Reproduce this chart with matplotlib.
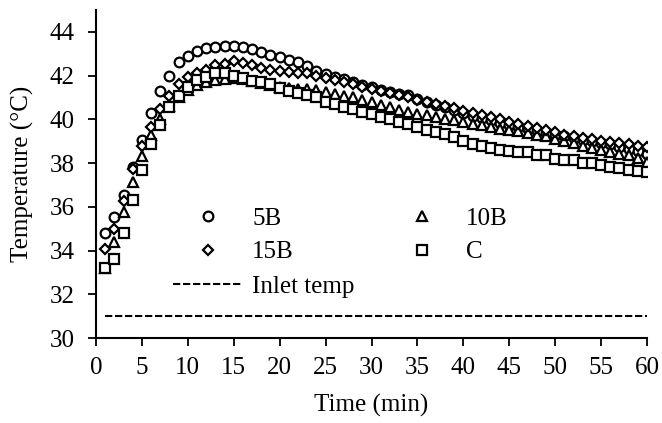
import matplotlib
matplotlib.use("Agg")
import matplotlib.pyplot as plt

time_min = [1, 2, 3, 4, 5, 6, 7, 8, 9, 10, 11, 12, 13, 14, 15, 16, 17, 18, 19, 20,
            21, 22, 23, 24, 25, 26, 27, 28, 29, 30, 31, 32, 33, 34, 35, 36, 37, 38, 39, 40,
            41, 42, 43, 44, 45, 46, 47, 48, 49, 50, 51, 52, 53, 54, 55, 56, 57, 58, 59, 60]

temp_5B = [34.80, 35.53, 36.52, 37.81, 39.07, 40.27, 41.28, 41.99, 42.60, 42.90,
           43.13, 43.28, 43.33, 43.35, 43.35, 43.33, 43.21, 43.06, 42.95, 42.83,
           42.70, 42.60, 42.45, 42.20, 42.07, 41.95, 41.84, 41.69, 41.56, 41.46,
           41.33, 41.23, 41.16, 41.10, 40.95, 40.80, 40.65, 40.55, 40.42, 40.30,
           40.15, 40.05, 39.95, 39.82, 39.72, 39.64, 39.56, 39.45, 39.38, 39.30,
           39.22, 39.15, 39.05, 39.00, 38.90, 38.85, 38.75, 38.65, 38.55, 38.40]

temp_15B = [34.06, 35.00, 36.25, 37.74, 38.76, 39.67, 40.47, 41.08, 41.60, 41.95,
            42.14, 42.25, 42.50, 42.52, 42.65, 42.56, 42.48, 42.37, 42.25, 42.19,
            42.17, 42.14, 42.10, 42.00, 41.90, 41.80, 41.70, 41.60, 41.50, 41.40,
            41.30, 41.20, 41.10, 41.00, 40.90, 40.80, 40.70, 40.60, 40.50, 40.40,
            40.30, 40.20, 40.10, 40.00, 39.90, 39.80, 39.70, 39.60, 39.50, 39.40,
            39.30, 39.25, 39.15, 39.10, 39.00, 38.95, 38.90, 38.85, 38.80, 38.72]

temp_10B = [33.20, 34.39, 35.76, 37.13, 38.34, 39.29, 40.02, 40.62, 41.00, 41.35,
            41.55, 41.70, 41.80, 41.85, 41.90, 41.85, 41.75, 41.65, 41.58, 41.50,
            41.45, 41.40, 41.40, 41.35, 41.23, 41.16, 41.08, 41.00, 40.88, 40.78,
            40.65, 40.55, 40.42, 40.32, 40.25, 40.18, 40.10, 40.02, 39.95, 39.87,
            39.80, 39.72, 39.65, 39.58, 39.52, 39.45, 39.38, 39.30, 39.22, 39.12,
            39.02, 38.92, 38.78, 38.70, 38.60, 38.52, 38.42, 38.35, 38.25, 38.05]

temp_C = [33.18, 33.63, 34.80, 36.29, 37.69, 38.88, 39.74, 40.58, 41.08, 41.50,
          41.80, 41.92, 42.10, 42.10, 42.00, 41.90, 41.76, 41.70, 41.60, 41.45,
          41.30, 41.20, 41.10, 41.00, 40.78, 40.70, 40.55, 40.47, 40.32, 40.25,
          40.09, 40.02, 39.86, 39.79, 39.64, 39.50, 39.41, 39.33, 39.18, 39.03,
          38.88, 38.80, 38.70, 38.60, 38.54, 38.50, 38.50, 38.39, 38.35, 38.19,
          38.15, 38.12, 37.99, 37.99, 37.89, 37.81, 37.78, 37.69, 37.66, 37.58]

inlet_temp = [31.0, 31.0, 31.0, 31.0, 31.0, 31.0, 31.0, 31.0, 31.0, 31.0,
              31.0, 31.0, 31.0, 31.0, 31.0, 31.0, 31.0, 31.0, 31.0, 31.0,
              31.0, 31.0, 31.0, 31.0, 31.0, 31.0, 31.0, 31.0, 31.0, 31.0,
              31.0, 31.0, 31.0, 31.0, 31.0, 31.0, 31.0, 31.0, 31.0, 31.0,
              31.0, 31.0, 31.0, 31.0, 31.0, 31.0, 31.0, 31.0, 31.0, 31.0,
              31.0, 31.0, 31.0, 31.0, 31.0, 31.0, 31.0, 31.0, 31.0, 31.0]

x_ticks = [0, 5, 10, 15, 20, 25, 30, 35, 40, 45, 50, 55, 60]
y_ticks = [30, 32, 34, 36, 38, 40, 42, 44]

plt.rcParams['font.family'] = ['Liberation Serif', 'DejaVu Serif']
FS = 18

fig = plt.figure(figsize=(6.62, 4.23), dpi=100)
ax = fig.add_axes([96 / 662, 1 - 338 / 423, (647 - 96) / 662, (338 - 10) / 423])

mk = dict(linestyle='none', markerfacecolor='white', markeredgecolor='black',
          markeredgewidth=1.6, markersize=7)
h5, = ax.plot(time_min, temp_5B, marker='o', label='5B', **mk)
h10, = ax.plot(time_min, temp_10B, marker='^', label='10B', **mk)
h15, = ax.plot(time_min, temp_15B, marker='D', label='15B', **{**mk, 'markersize': 5.3})
hC, = ax.plot(time_min, temp_C, marker='s', label='C', **{**mk, 'markersize': 6.5})
hI, = ax.plot(time_min, inlet_temp, linestyle=(0, (3.5, 1.3)), color='black',
              linewidth=1.5, label='Inlet temp')

ax.set_xlim(0, 60)
ax.set_ylim(30, 45)
ax.set_xticks(x_ticks)
ax.set_yticks(y_ticks)
ax.tick_params(axis='both', direction='out', length=5.5, width=1.3, labelsize=FS,
               color='black')
ax.tick_params(axis='y', pad=10)
ax.tick_params(axis='x', pad=8)
for s in ['top', 'right']:
    ax.spines[s].set_visible(False)
for s in ['left', 'bottom']:
    ax.spines[s].set_linewidth(1.5)
    ax.spines[s].set_color('black')

ax.set_xlabel('Time (min)', fontsize=FS)
ax.xaxis.set_label_coords(0.5, -0.17)
ax.set_ylabel('Temperature (°C)', fontsize=FS)
ax.yaxis.set_label_coords(-0.112, 0.5)

leg = ax.legend(handles=[h5, h15, hI, h10, hC], ncol=2, frameon=False,
                fontsize=FS, handlelength=2.8, handletextpad=0.36,
                columnspacing=1.3, labelspacing=0.46, borderpad=0,
                borderaxespad=0, loc='upper left',
                bbox_to_anchor=((173 - 96) / 551, (338 - 207) / 328))

fig.savefig('out.png', dpi=100)
